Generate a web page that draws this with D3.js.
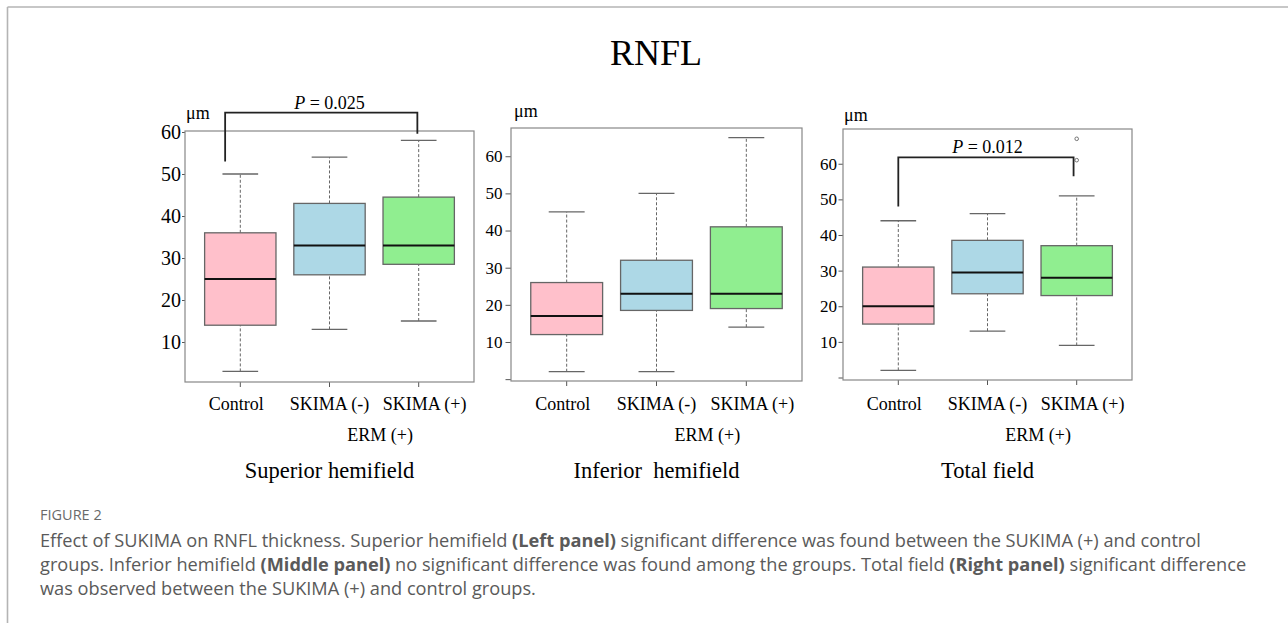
<!DOCTYPE html>
<html lang="en">
<head>
	<meta charset="utf-8">
	<title>RNFL boxplots</title>
	<script src="https://d3js.org/d3.v7.min.js"></script>
	<style>
		body { margin: 0; background: #fff; }
		svg { display: block; }
		.serif { font-family: "Liberation Serif", "Times New Roman", serif; fill: #000; }
		.cap { font-family: "Open Sans", Lato, sans-serif; fill: #5a5a5a; }
	</style>
</head>
<body>
<svg id="fig" width="1288" height="623"></svg>

<script>
	// ---------------- data ----------------
	var groups = ["Control", "SKIMA (-)", "SKIMA (+)"];
	var subLabel = "ERM (+)";
	var panelTitles = ["Superior hemifield", "Inferior  hemifield", "Total field"];

	// five numbers per group: low whisker, Q1, median, Q3, high whisker
	var superiorStats = [[3, 14, 25, 36, 50], [13, 26, 33, 43, 54], [15, 28.5, 33, 44.5, 58]];
	var inferiorStats = [[2, 12, 17, 26, 45], [2, 18.5, 23, 32, 50], [14, 19, 23, 41, 65]];
	var totalStats = [[2, 15, 20, 31, 44], [13, 23.5, 29.5, 38.5, 46], [9, 23, 28, 37, 51]];

	var superiorOutliers = [[], [], []];
	var inferiorOutliers = [[], [], []];
	var totalOutliers = [[], [], [61, 67]];

	var superiorTicks = [10, 20, 30, 40, 50, 60];
	var inferiorTicks = [0, 10, 20, 30, 40, 50, 60];
	var totalTicks = [0, 10, 20, 30, 40, 50, 60];

	// significance brackets: x positions (group units), left leg bottom, top, right leg bottom
	var superiorBrackets = [{ a: 0.83, b: 2.985, lo: 53, top: 64.6, ro: 59.6, p: "0.025" }];
	var inferiorBrackets = [];
	var totalBrackets = [{ a: 1, b: 2.965, lo: 48, top: 61.8, ro: 56.5, p: "0.012" }];

	var captionHead = "FIGURE 2";
	var captionLines = [
		[["Effect of SUKIMA on RNFL thickness. Superior hemifield ", 0], ["(Left panel)", 1], [" significant difference was found between the SUKIMA (+) and control", 0]],
		[["groups. Inferior hemifield ", 0], ["(Middle panel)", 1], [" no significant difference was found among the groups. Total field ", 0], ["(Right panel)", 1], [" significant difference", 0]],
		[["was observed between the SUKIMA (+) and control groups.", 0]]
	];

	// ---------------- layout ----------------
	var boxColors = ["#ffc0cb", "#add8e6", "#90ee90"];
	var labelShift = [-4, 0, 6];

	var panels = [
		{ stats: superiorStats, out: superiorOutliers, ticks: superiorTicks, brackets: superiorBrackets,
		  x0: 185, x1: 474, y0: 131, y1: 382, dom: [0.48, 60.24], tickLen: 3, tickPad: 1, tickFont: 20, unitY: 119, unitX: 186 },
		{ stats: inferiorStats, out: inferiorOutliers, ticks: inferiorTicks, brackets: inferiorBrackets,
		  x0: 511, x1: 802, y0: 128, y1: 381, dom: [-0.5, 67.6], tickLen: 5.5, tickPad: 3, tickFont: 17, unitY: 117, unitX: 514 },
		{ stats: totalStats, out: totalOutliers, ticks: totalTicks, brackets: totalBrackets,
		  x0: 843, x1: 1132, y0: 129, y1: 380, dom: [-0.7, 69.75], tickLen: 4.5, tickPad: 1.5, tickFont: 17, unitY: 121, unitX: 844 }
	];

	var svg = d3.select("#fig");

	// page frame (grey rule top and left)
	svg.append("line").attr("x1", 7.5).attr("x2", 1288).attr("y1", 7).attr("y2", 7)
		.attr("stroke", "#b4b4b4").attr("stroke-width", 1.6);
	svg.append("line").attr("x1", 7.5).attr("x2", 7.5).attr("y1", 7).attr("y2", 623)
		.attr("stroke", "#b4b4b4").attr("stroke-width", 1.6);

	// main title
	svg.append("text").attr("class", "serif").attr("x", 656).attr("y", 65)
		.attr("text-anchor", "middle").style("font-size", "36px").text("RNFL");

	panels.forEach(function (p, pi) {
		var g = svg.append("g");

		// R-like x scale: 0.5..n+0.5 extended by 4%
		var n = groups.length;
		var ext = n * 0.04;
		var x = d3.scaleLinear().domain([0.5 - ext, n + 0.5 + ext]).range([p.x0, p.x1]);
		var y = d3.scaleLinear().domain(p.dom).range([p.y1, p.y0]);
		var boxW = (x(1.8) - x(1));   // boxwex 0.8
		var capW = boxW / 2;

		// y axis
		var ax = g.append("g").attr("transform", "translate(" + p.x0 + ",0)")
			.call(d3.axisLeft(y).tickValues(p.ticks).tickSize(p.tickLen).tickPadding(p.tickPad)
				.tickFormat(function (d) { return d === 0 ? "" : d; }));
		ax.select(".domain").remove();
		ax.selectAll(".tick line").attr("stroke", "#555");
		ax.selectAll(".tick text").attr("class", "serif").attr("fill", "#000")
			.style("font-size", p.tickFont + "px");

		// x ticks below the frame
		g.selectAll(".xt").data(groups).enter().append("line")
			.attr("x1", function (d, i) { return x(i + 1); })
			.attr("x2", function (d, i) { return x(i + 1); })
			.attr("y1", p.y1).attr("y2", p.y1 + 5)
			.attr("stroke", "#555");

		// boxes
		p.stats.forEach(function (s, i) {
			var cx = x(i + 1);
			// whiskers (dashed)
			g.append("line").attr("x1", cx).attr("x2", cx).attr("y1", y(s[0])).attr("y2", y(s[1]))
				.attr("stroke", "#666").attr("stroke-dasharray", "3,2");
			g.append("line").attr("x1", cx).attr("x2", cx).attr("y1", y(s[3])).attr("y2", y(s[4]))
				.attr("stroke", "#666").attr("stroke-dasharray", "3,2");
			// caps
			[s[0], s[4]].forEach(function (v) {
				g.append("line").attr("x1", cx - capW / 2).attr("x2", cx + capW / 2)
					.attr("y1", y(v)).attr("y2", y(v)).attr("stroke", "#666").attr("stroke-width", 1.3);
			});
			// box
			g.append("rect").attr("x", cx - boxW / 2).attr("y", y(s[3]))
				.attr("width", boxW).attr("height", y(s[1]) - y(s[3]))
				.attr("fill", boxColors[i]).attr("stroke", "#666").attr("stroke-width", 1.3);
			// median
			g.append("line").attr("x1", cx - boxW / 2).attr("x2", cx + boxW / 2)
				.attr("y1", y(s[2])).attr("y2", y(s[2])).attr("stroke", "#111").attr("stroke-width", 2);
			// outliers
			g.selectAll(".o" + i).data(p.out[i]).enter().append("circle")
				.attr("cx", cx).attr("cy", function (d) { return y(d); }).attr("r", 1.8)
				.attr("fill", "none").attr("stroke", "#666").attr("stroke-width", 0.9);
		});

		// plot frame
		g.append("rect").attr("x", p.x0).attr("y", p.y0)
			.attr("width", p.x1 - p.x0).attr("height", p.y1 - p.y0)
			.attr("fill", "none").attr("stroke", "#888").attr("stroke-width", 1.2);

		// significance bracket
		p.brackets.forEach(function (b) {
			var xa = x(b.a), xb = x(b.b);
			g.append("path")
				.attr("d", "M" + xa + "," + y(b.lo) + "V" + y(b.top) + "H" + xb + "V" + y(b.ro))
				.attr("fill", "none").attr("stroke", "#222").attr("stroke-width", 1.8);
			var t = g.append("text").attr("class", "serif").attr("x", (x(1) + x(3)) / 2)
				.attr("y", y(b.top) - 4).attr("text-anchor", "middle").style("font-size", "18px");
			t.append("tspan").style("font-style", "italic").text("P");
			t.append("tspan").text(" = " + b.p);
		});

		// unit label
		g.append("text").attr("class", "serif").attr("x", p.unitX).attr("y", p.unitY)
			.style("font-size", "18px").text("\u03bcm");

		// category labels
		g.selectAll(".cl").data(groups).enter().append("text").attr("class", "serif")
			.attr("x", function (d, i) { return x(i + 1) + labelShift[i]; }).attr("y", 410)
			.attr("text-anchor", "middle").style("font-size", "18px")
			.text(function (d) { return d; });
		g.append("text").attr("class", "serif").attr("x", (x(2) + x(3)) / 2 + 6).attr("y", 441)
			.attr("text-anchor", "middle").style("font-size", "18px").text(subLabel);

		// panel title
		g.append("text").attr("class", "serif").attr("x", (p.x0 + p.x1) / 2).attr("y", 478)
			.attr("text-anchor", "middle").style("font-size", "22.5px").style("white-space", "pre")
			.attr("xml:space", "preserve").text(panelTitles[pi]);
	});

	// caption
	svg.append("text").attr("class", "cap").attr("x", 40).attr("y", 520)
		.style("font-size", "14.5px").style("fill", "#6a6a6a").text(captionHead);
	captionLines.forEach(function (line, li) {
		var t = svg.append("text").attr("class", "cap").attr("x", 40).attr("y", 547 + li * 24)
			.style("font-size", "18.2px");
		line.forEach(function (seg) {
			t.append("tspan").style("font-weight", seg[1] ? "700" : "400").text(seg[0]);
		});
	});
</script>
</body>
</html>
